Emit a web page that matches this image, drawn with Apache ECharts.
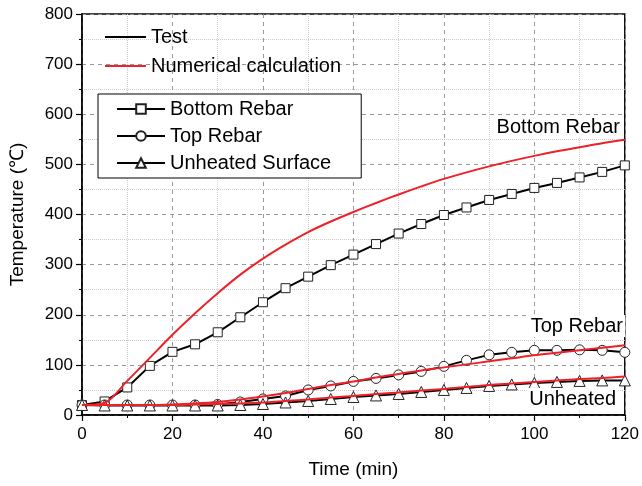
<!DOCTYPE html>
<html>
<head>
<meta charset="utf-8">
<script src="https://cdn.jsdelivr.net/npm/echarts@6/dist/echarts.min.js"></script>
<style>html,body{margin:0;padding:0;background:#fff}#c{width:642px;height:486px}</style>
</head>
<body>
<div id="c"></div>
<script>
const times = [0,5,10,15,20,25,30,35,40,45,50,55,60,65,70,75,80,85,90,95,100,105,110,115,120];
const bottomTest = [20,27,55,98,126,141,165,195,225,253,276,299,320,341,362,381,399,414,429,441,453,463,474,485,498];
const bottomCalc = [20,24,68,114,160,203,243,280,312,340,365,386,405,423,440,456,471,484,496,507,517,526,534,542,549];
const topTest = [20,20,20,20,20,20,21,26,32,38,50,58,67,73,80,87,97,109,120,125,129,129,130,129,125];
const topCalc = [20,20,20,20,21,23,26,31,37,44,52,60,67,75,82,89,95,101,107,113,119,124,129,134,139];
const unhTest = [20,19,19,19,19,19,19,20,22,25,28,32,36,39,42,46,50,54,58,61,64,66,68,69,69];
const unhCalc = [20,20,20,20,20,21,22,23,25,28,31,35,38,42,45,49,52,56,60,63,66,69,72,74,77];
const xTicks = {min:0, max:120, interval:20};
const yTicks = {min:0, max:800, interval:100};

const pairs = arr => times.map((t,i)=>[t, arr[i]]);
const FONT = 'Liberation Sans, Arial, sans-serif';

const testStyle = (name, data, symbol, size) => ({
  name, type:'line', data: pairs(data), symbol, symbolSize:size,
  lineStyle:{color:'#000', width:2}, itemStyle:{color:'#fff', borderColor:'#222', borderWidth:1},
  z:3, animation:false
});
const calcStyle = (data) => ({
  name:'Numerical calculation', type:'line', data: pairs(data), symbol:'none', smooth:0.3,
  lineStyle:{color:'#ee2028', width:2}, itemStyle:{color:'#ee2028'}, z:5, animation:false
});

const chart = echarts.init(document.getElementById('c'), null, {renderer:'canvas'});
chart.setOption({
  animation:false,
  grid:{left:82, right:15, top:14, bottom:71, show:true, borderColor:'#000', borderWidth:1.5, backgroundColor:'transparent'},
  xAxis:{
    type:'value', min:xTicks.min, max:xTicks.max, interval:xTicks.interval,
    name:'Time (min)', nameLocation:'middle', nameGap:45,
    nameTextStyle:{fontFamily:FONT, fontSize:19, color:'#000'},
    axisLine:{show:true, lineStyle:{color:'#000', width:1.5}},
    axisTick:{show:true, length:6, lineStyle:{color:'#000', width:1.2}},
    minorTick:{show:true, splitNumber:2, length:3, lineStyle:{color:'#000'}},
    axisLabel:{fontFamily:FONT, fontSize:17, color:'#000', margin:11},
    splitLine:{show:true, lineStyle:{color:'#999', type:[4,4], width:1}},
    minorSplitLine:{show:true, lineStyle:{color:'#ccc', type:'dotted', width:1}}
  },
  yAxis:{
    type:'value', min:yTicks.min, max:yTicks.max, interval:yTicks.interval,
    name:'Temperature (℃)', nameLocation:'middle', nameGap:55,
    nameTextStyle:{fontFamily:FONT, fontSize:19, color:'#000'},
    axisLine:{show:true, lineStyle:{color:'#000', width:1.5}},
    axisTick:{show:true, length:6, lineStyle:{color:'#000', width:1.2}},
    minorTick:{show:true, splitNumber:2, length:3, lineStyle:{color:'#000'}},
    axisLabel:{fontFamily:FONT, fontSize:17, color:'#000', margin:9},
    splitLine:{show:true, lineStyle:{color:'#999', type:[4,4], width:1}},
    minorSplitLine:{show:true, lineStyle:{color:'#ccc', type:'dotted', width:1}}
  },
  legend:[
    {
      data:[{name:'Test', icon:'rect'},{name:'Numerical calculation', icon:'rect'}],
      orient:'vertical', left:105, top:27, padding:0,
      itemWidth:41, itemHeight:2, itemGap:9,
      textStyle:{fontFamily:FONT, fontSize:20, lineHeight:20, color:'#000'},
      selectedMode:false
    },
    {
      data:['Bottom Rebar','Top Rebar','Unheated Surface'], orient:'vertical', left:98, top:94,
      padding:[5,30,5,18], borderColor:'#000', borderWidth:1, backgroundColor:'#fff',
      itemWidth:48, itemHeight:12, itemGap:7,
      textStyle:{fontFamily:FONT, fontSize:20, lineHeight:20, color:'#000'},
      selectedMode:false
    }
  ],
  graphic:[
    {type:'text', right:20, top:116, z:100, style:{text:'Bottom Rebar', font:'20px '+FONT, fill:'#000', backgroundColor:'#fff', padding:[1,2,1,2]}},
    {type:'text', right:17, top:315, z:100, style:{text:'Top Rebar', font:'20px '+FONT, fill:'#000', backgroundColor:'#fff', padding:[1,2,1,2]}},
    {type:'text', right:24, top:388, z:100, style:{text:'Unheated', font:'20px '+FONT, fill:'#000', backgroundColor:'#fff', padding:[1,2,1,2]}}
  ],
  series:[
    {name:'Test', type:'line', data:[], symbol:'none', lineStyle:{color:'#000', width:2}, itemStyle:{color:'#000'}},
    testStyle('Bottom Rebar', bottomTest, 'rect', 9),
    testStyle('Top Rebar', topTest, 'circle', 10),
    testStyle('Unheated Surface', unhTest, 'triangle', 11),
    calcStyle(bottomCalc),
    calcStyle(topCalc),
    calcStyle(unhCalc)
  ]
});
</script>
</body>
</html>
